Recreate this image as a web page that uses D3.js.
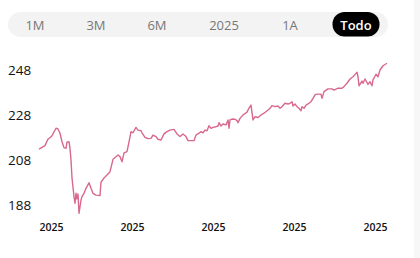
<!DOCTYPE html>
<html>
<head>
<meta charset="utf-8">
<script src="https://cdn.jsdelivr.net/npm/d3@7"></script>
<style>
  html, body { margin: 0; padding: 0; background: #fff; }
  svg { display: block; font-family: "Open Sans", "Noto Sans", sans-serif; }
</style>
</head>
<body>
<svg id="chart" width="420" height="258"></svg>
<script>
const rangeLabels = ['1M', '3M', '6M', '2025', '1A', 'Todo'];
const activeRange = 'Todo';
const yTicks = [188, 208, 228, 248];
const xTickDays = [12, 93, 174, 255, 336];
const xTickLabels = ['2025', '2025', '2025', '2025', '2025'];
const days = [0, 3, 6, 9, 11, 13, 17, 19, 21, 23, 25, 27, 28, 30, 31, 32, 33, 35, 36, 37, 38, 39, 40, 42, 43, 45, 47, 50, 52, 54, 57, 61, 62, 65, 68, 71, 74, 79, 81, 83, 85, 88, 90, 92, 94, 97, 99, 102, 103, 106, 109, 112, 114, 117, 119, 122, 125, 128, 131, 135, 138, 141, 144, 147, 149, 153, 155, 157, 160, 162, 164, 166, 168, 169, 170, 172, 174, 177, 179, 180, 182, 184, 187, 189, 190, 191, 193, 196, 198, 199, 201, 204, 208, 210, 212, 214, 216, 219, 222, 225, 229, 231, 233, 236, 239, 241, 243, 246, 249, 251, 253, 254, 256, 258, 260, 262, 263, 265, 267, 269, 272, 274, 276, 278, 281, 282, 283, 285, 289, 293, 295, 299, 303, 305, 308, 311, 314, 317, 318, 319, 320, 323, 324, 326, 329, 331, 333, 334, 337, 339, 341, 344, 348];
const prices = [212.8, 213.6, 214.4, 217.3, 217.9, 218.8, 222.1, 221.8, 219.9, 216.1, 213.5, 213.2, 215.9, 216.1, 213.2, 208.0, 200.0, 191.7, 188.8, 193.2, 190.7, 192.9, 184.3, 190.2, 191.7, 193.2, 195.4, 197.9, 195.4, 193.2, 192.4, 192.2, 198.2, 200.0, 201.3, 202.8, 208.3, 210.2, 209.5, 207.2, 211.2, 211.7, 216.1, 220.6, 220.1, 222.5, 221.3, 221.0, 220.1, 218.1, 217.5, 217.6, 219.1, 218.4, 217.2, 216.9, 219.6, 220.6, 221.3, 221.6, 219.6, 218.4, 219.6, 218.4, 216.6, 216.6, 216.6, 219.1, 219.9, 220.6, 220.1, 221.3, 221.0, 222.1, 223.2, 222.1, 222.5, 222.8, 223.1, 224.6, 223.1, 224.0, 223.6, 225.8, 222.1, 225.8, 226.2, 226.1, 225.5, 224.6, 226.5, 228.0, 229.3, 231.1, 232.4, 225.8, 227.2, 226.9, 228.0, 228.8, 230.2, 231.0, 232.2, 231.7, 232.0, 231.0, 231.7, 233.2, 232.9, 233.2, 233.9, 232.0, 232.9, 231.7, 231.0, 229.9, 231.7, 231.0, 232.4, 232.9, 233.9, 235.4, 236.9, 237.3, 237.3, 237.2, 235.4, 238.4, 239.6, 239.6, 239.1, 239.9, 239.9, 240.6, 242.1, 244.0, 245.0, 246.5, 247.0, 245.0, 241.0, 243.1, 242.1, 244.0, 241.6, 242.8, 241.0, 243.6, 246.1, 245.0, 248.0, 249.9, 251.0];

const series = days.map((d, i) => ({ day: d, price: prices[i] }));
const svg = d3.select('#chart');
const width = 420;
const height = 258;

svg.append('rect').attr('width', width).attr('height', height).attr('fill', '#fff');
svg.append('rect').attr('x', 414).attr('y', 0).attr('width', 6).attr('height', height).attr('fill', '#f7f7f7');

// range selector
const tabCenters = [35, 96, 157, 224, 290, 356];
const tabs = svg.append('g').attr('class', 'tabs');
tabs.append('rect')
  .attr('x', 8).attr('y', 12).attr('width', 380).attr('height', 25).attr('rx', 12.5)
  .attr('fill', '#f3f3f3');
const activeIndex = rangeLabels.indexOf(activeRange);
tabs.append('rect')
  .attr('x', tabCenters[activeIndex] - 23.5).attr('y', 12).attr('width', 47).attr('height', 24.5).attr('rx', 12)
  .attr('fill', '#000');
tabs.selectAll('text')
  .data(rangeLabels)
  .join('text')
  .attr('x', (d, i) => tabCenters[i])
  .attr('y', 24.5)
  .attr('text-anchor', 'middle')
  .attr('dominant-baseline', 'central')
  .attr('font-size', 13)
  .attr('font-weight', d => d === activeRange ? 600 : 500)
  .attr('fill', d => d === activeRange ? '#fff' : '#777')
  .text(d => d);

const xScale = d3.scaleLinear().domain([0, 348]).range([39, 387]);
const yScale = d3.scaleLinear().domain([188, 248]).range([205, 70]);

const yAxis = svg.append('g')
  .attr('transform', 'translate(8,0)')
  .call(d3.axisRight(yScale).tickValues(yTicks).tickSize(0).tickPadding(0).tickFormat(d3.format('d')));
yAxis.select('.domain').remove();
yAxis.selectAll('text')
  .attr('font-family', '"Open Sans", "Noto Sans", sans-serif')
  .attr('font-size', 13.5)
  .attr('fill', '#111');

const xAxis = svg.append('g')
  .attr('transform', 'translate(0,224)')
  .call(d3.axisBottom(xScale).tickValues(xTickDays).tickSize(0).tickPadding(0).tickFormat((d, i) => xTickLabels[i]));
xAxis.select('.domain').remove();
xAxis.selectAll('text')
  .attr('font-family', '"Open Sans", "Noto Sans", sans-serif')
  .attr('font-size', 10.5)
  .attr('font-weight', 600)
  .attr('fill', '#111');

const line = d3.line()
  .x(d => xScale(d.day))
  .y(d => yScale(d.price));
svg.append('path')
  .datum(series)
  .attr('d', line)
  .attr('fill', 'none')
  .attr('stroke', '#d8688f')
  .attr('stroke-width', 1.4)
  .attr('stroke-linejoin', 'round');
</script>
</body>
</html>
